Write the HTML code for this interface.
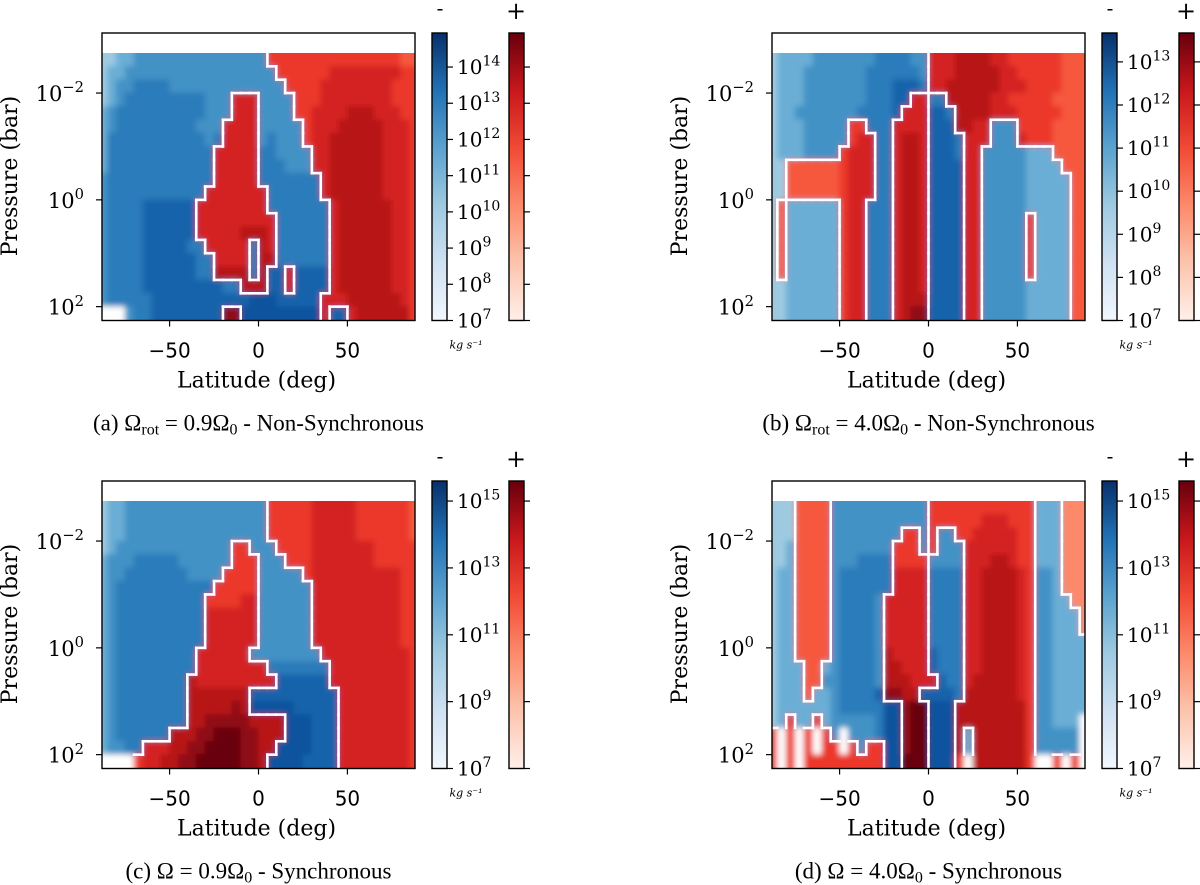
<!DOCTYPE html>
<html><head><meta charset="utf-8">
<style>
html,body{margin:0;padding:0;background:#fff;}
svg{display:block;}
text{font-family:"DejaVu Serif","Liberation Serif",serif;fill:#000;}
.cap{font-family:"Liberation Serif",serif;font-size:23px;}
.xt{font-family:"DejaVu Sans","Liberation Sans",sans-serif;font-size:20px;}
</style></head>
<body>
<svg id="fig" width="1200" height="885" viewBox="0 0 1200 885" xmlns="http://www.w3.org/2000/svg">
<defs>
<filter id="soft" x="-5%" y="-5%" width="110%" height="110%"><feGaussianBlur stdDeviation="3"/></filter>
<linearGradient id="gBlue" x1="0" y1="1" x2="0" y2="0">
<stop offset="0" stop-color="#f2f7fd"/><stop offset="0.2" stop-color="#cfe1f2"/><stop offset="0.4" stop-color="#9ecae1"/><stop offset="0.6" stop-color="#5aa2cf"/><stop offset="0.8" stop-color="#2171b5"/><stop offset="1" stop-color="#08306b"/></linearGradient>
<linearGradient id="gRed" x1="0" y1="1" x2="0" y2="0">
<stop offset="0" stop-color="#fff0ea"/><stop offset="0.2" stop-color="#fcc4ad"/><stop offset="0.4" stop-color="#fc8a6a"/><stop offset="0.6" stop-color="#f14a35"/><stop offset="0.8" stop-color="#c8171c"/><stop offset="1" stop-color="#67000d"/></linearGradient>
</defs>
</svg>
<script>
// ---- data (lat from -90 in 5 deg columns; log10 p rows from -2.75 in 0.25 steps) ----
const latStart = -90;
const latStep = 5;
const logpStart = -2.75;
const logpStep = 0.25;
const xTicks = [-50, 0, 50];
const yTicks = [-2, 0, 2];
const cbTicksA = [7, 8, 9, 10, 11, 12, 13, 14];
const cbTicksB = [7, 8, 9, 10, 11, 12, 13];
const cbTicksC = [7, 9, 11, 13, 15];
const cbTicksD = [7, 9, 11, 13, 15];
const cbMaxA = 14.94, cbMaxB = 13.67, cbMaxC = 15.6, cbMaxD = 15.6;
// lowercase = negative (blue) magnitude level, uppercase = positive (red), '.' = none
const gridA = [
"ccdd"+"eeeeeeeeeeeeeee"+"EEEEEEEEEEEEEEE"+"DD",
"cdde"+"eeeeeeeeeeeeeeee"+"EEEEEEFFFFFFFFEE",
"cdee"+"ffffeeeeeeeeeeeee"+"EEEEFFFFFFFFEEE",
"cdef"+"ffffffffeee"+"FFF"+"eeee"+"EEEFFFFFFFFEEE",
"deff"+"ffffffffeee"+"FFF"+"eeee"+"EEFFFFGGGFFFEE",
"deff"+"fffffffeee"+"FFFF"+"eeeee"+"EFFFGGGGGFFFE",
"dfff"+"ffffffffef"+"FFFF"+"efeee"+"EFFGGGGGGFFFE",
"dfff"+"fffffffff"+"FFFFF"+"ffeeee"+"FFGGGGGGFFFE",
"dfff"+"fffffffff"+"FFFFF"+"fffeee"+"FFGGGGGGFFFE",
"efff"+"fffffffff"+"FFFFF"+"fffffff"+"FGGGGGGFFFE",
"efff"+"ffffffff"+"FFFFFFF"+"ffffff"+"FGGGGGGFFFE",
"efff"+"fgggggg"+"FFFFFFFF"+"fffffff"+"FGGGGGGFFE",
"efff"+"fgggggg"+"FFFFFFFFF"+"ffffff"+"FGGGGGGFFE",
"efff"+"fgggggg"+"FFFFFGGGF"+"ffffff"+"FGGGGGGFFE",
"efff"+"fgggggff"+"FFFFFfGF"+"ffffff"+"FGGGGGGFFE",
"efff"+"fggggggff"+"FFFFfGG"+"ffffff"+"FGGGGGGFFE",
"efff"+"fggggggff"+"GGGGfG"+"gg"+"F"+"gggg"+"FGGGGGGFFE",
"efff"+"fgggggggggff"+"GGG"+"gg"+"F"+"gggg"+"FGGGGGGFFE",
"efff"+"ffggggggggggghhhgggg"+"g"+"FF"+"FGGGGGGFE",
"..."+"effggggggg"+"g"+"HH"+"hhhhhhhhh"+"F"+"gg"+"FGGGGGGE"
];
const gridB = [
"cddddeeeeeeeffffee"+"FFFGGGGFFEEEEEEDDD",
"cdddeeeeeeeffffffe"+"FFFGGGGGFFEEEEEDDD",
"cdddeeeeeeefffgggf"+"FFGGGGGGFFFEEEEDDD",
"cdddeeeeeeefffgg"+"FF"+"ff"+"GGGGGFFEEEEEDDDD",
"cddeeeeeeeffffg"+"FFF"+"ggf"+"GGGGFFFEEEEEDDD",
"cdddeeeee"+"EE"+"fff"+"FFFF"+"ggg"+"GGFF"+"eee"+"EEEEDDDD",
"cdddeeeee"+"EFF"+"ff"+"FGGF"+"gggf"+"FFF"+"eee"+"FEEEDDDD",
"cdddeeee"+"EFFF"+"ff"+"FGGF"+"gggf"+"FF"+"eeeee"+"ddd"+"DDDD",
"cc"+"DDDDDD"+"EFFF"+"ff"+"FGGF"+"gggg"+"FF"+"eeeee"+"dddd"+"DDD",
"cc"+"DDDDDD"+"EFFF"+"ff"+"FGGF"+"gggg"+"FF"+"eeeee"+"ddddd"+"DD",
"cc"+"DDDDDD"+"EFFF"+"ff"+"FGGF"+"gggg"+"FF"+"eeeee"+"ddddd"+"DD",
"cD"+"dddddd"+"EFF"+"fff"+"FGGF"+"gggg"+"FF"+"eeeee"+"ddddd"+"DD",
"cD"+"dddddd"+"EFF"+"fff"+"FGGF"+"gggg"+"FF"+"eeeee"+"E"+"dddd"+"DD",
"cD"+"dddddd"+"EFF"+"fff"+"FGGF"+"gggg"+"FF"+"eeeee"+"E"+"dddd"+"DD",
"cD"+"dddddd"+"EFF"+"fff"+"FGGF"+"gggg"+"FF"+"eeeee"+"E"+"dddd"+"DD",
"cD"+"dddddd"+"EFF"+"fff"+"FGGF"+"gggg"+"FF"+"eeeee"+"E"+"dddd"+"DD",
"cD"+"dddddd"+"EFF"+"fff"+"FGGF"+"gggg"+"FF"+"eeeee"+"E"+"dddd"+"DD",
"cc"+"dddddd"+"EFF"+"fff"+"FGGF"+"gggg"+"FF"+"eeeee"+"ddddd"+"DD",
"cc"+"dddddd"+"EFF"+"fff"+"FGGG"+"gggg"+"FF"+"eeeee"+"ddddd"+"DD",
"cc"+"dddddd"+"EFF"+"fff"+"FGHH"+"gggg"+"FF"+"eeeee"+"ddddd"+"DD"
];
const gridC = [
"cdde"+"eeeeeeeeeeeeeee"+"EEEEEFFFFFEEEEEED",
"cdde"+"eeeeeeeeeeeeeee"+"EEEEEFFFFFEEEEEED",
"cdde"+"eeeeeeeeeeeeeee"+"EEEEEFFFFFEEEEEED",
"cdee"+"eeeeeeeeeee"+"EE"+"eee"+"EEEEFFFFFFFEEEEE",
"deee"+"fffffeeeeee"+"EEE"+"eee"+"EEEFFFFFFFEEEEE",
"deef"+"ffffffeeee"+"EEEE"+"eeeee"+"EFFFFFFFFFFEE",
"deff"+"fffffffff"+"EEEEE"+"eeeeee"+"FFFFFFFFFFEE",
"deff"+"ffffffff"+"EEEEFF"+"eeeeee"+"FFFFFFFFFFEE",
"deff"+"ffffffff"+"FFFFFF"+"eeeeee"+"FFFFFFFFFFEE",
"deff"+"ffffffff"+"FFFFFF"+"eeeeee"+"FFFFFFFFFFEE",
"deff"+"ffffffff"+"FFFFFF"+"eeeeee"+"FFFFFFFFFFEE",
"deff"+"fffffff"+"FFFFFF"+"eeeeeeee"+"FFFFFFFFFFE",
"deff"+"fffffff"+"FFFFFFFF"+"fffffff"+"FFFFFFFFFE",
"deff"+"ffffff"+"GFFFFFFFFF"+"gggggg"+"FFFFFFFFFE",
"deff"+"ffffff"+"GGGGGGG"+"gggggggggg"+"FFFFFFFFE",
"deff"+"ffffff"+"GGGGGHG"+"hhhhhggggg"+"FFFFFFFFE",
"deff"+"ffffff"+"GGHHHHHGGGG"+"hhhggg"+"FFFFFFFFE",
"deff"+"ffff"+"GGGHHIIIHHGGG"+"hhhggg"+"FFFFFFFFE",
"deef"+"f"+"FFFGGHHIIIIHHGG"+"hhhhggg"+"FFFFFFFFE",
"...."+"EFFGGHHIIIIIHHG"+"hhhhgggg"+"FFFFFFFFE"
];
const gridD = [
"ccc"+"DDDD"+"eeeeeeeeeee"+"EEEEEEEEEEEE"+"ddd"+"CCC",
"ccc"+"DDDD"+"eeeeeeeeeee"+"EEEEEEFFFEEE"+"ddd"+"CCC",
"ccc"+"DDDD"+"eeeeeeee"+"EE"+"e"+"E"+"ee"+"EEFFFFFEE"+"ddd"+"CCC",
"ccd"+"DDDD"+"eeeeeee"+"EEE"+"e"+"E"+"eee"+"FFFFFFEE"+"ddd"+"CCC",
"ccd"+"DDDD"+"eeeffff"+"EEEE"+"eeee"+"FFFGGFEE"+"ddd"+"CCC",
"cdd"+"DDDD"+"effffff"+"FFFF"+"ffff"+"FFGGGGFE"+"eed"+"CCC",
"cdd"+"DDDD"+"effffff"+"FFFF"+"ffff"+"FFGGGGFE"+"eed"+"CCC",
"cdd"+"DDDD"+"effffe"+"FFFFF"+"ffff"+"FFGGGGFE"+"eeddCC",
"cdd"+"DDDD"+"effffe"+"FFFFF"+"ffff"+"FFGGGGFE"+"eedddC",
"cdd"+"DDDD"+"effffe"+"FFFFF"+"ffff"+"FFGGGGFE"+"eedddC",
"cdd"+"DDDD"+"effffe"+"FFFFF"+"ffff"+"FFGGGGFE"+"eedddd",
"cdd"+"DDDD"+"effffe"+"GFFFF"+"gfff"+"FFGGGGFE"+"eedddd",
"cddd"+"DD"+"d"+"effffe"+"GGFFF"+"gfff"+"FFGGGGFE"+"eedddd",
"cddd"+"DD"+"e"+"effffe"+"GGGFF"+"Fgff"+"FGGGGGFE"+"eedddd",
"cddd"+"D"+"dd"+"effffg"+"HHGG"+"g"+"gggf"+"GGGGGGFE"+"eedddd",
"cddd"+"dd"+"d"+"efffff"+"hh"+"HII"+"hhh"+"GGGGGGGGE"+"eedddd",
"cdEd"+"dEd"+"eeeeef"+"hh"+"HII"+"hhh"+"GGGGGGGGE"+"eeddd.",
"E.E.E.E"+"e.eee"+"f"+"hh"+"HII"+"hhh"+"GdGGGGGGE"+"eeeee.",
"E.E.E.EE.EeE"+"E"+"hh"+"HII"+"hhh"+"GdGGGGGGE"+"eeeee.",
"E.E.EEEEEEEE"+"E"+"hh"+"III"+"hhh"+"E.GGGGGGE"+"..E.E."
];

// ---- rendering ----
const NS = "http://www.w3.org/2000/svg";
const svg = document.getElementById("fig");
const BLUES = {a:"#dbe9f6",b:"#bdd7ec",c:"#9ecae1",d:"#6baed6",e:"#4292c6",f:"#2c7bba",g:"#1764ab",h:"#0a539e",i:"#08306b"};
const REDS = {A:"#fdd4c2",B:"#fcaa8e",C:"#fc8a6a",D:"#f6583e",E:"#eb372a",F:"#d42121",G:"#b81419",H:"#8f0912",I:"#67000d"};
function colorOf(ch){ if(BLUES[ch]) return BLUES[ch]; if(REDS[ch]) return REDS[ch]; return "#ffffff"; }
function signOf(ch){ if(BLUES[ch]) return -1; if(REDS[ch]) return 1; return 0; }
function mk(tag, attrs, parent){ const e=document.createElementNS(NS,tag); for(const k in attrs) e.setAttribute(k,attrs[k]); (parent||svg).appendChild(e); return e; }

function supText(parent, x, y, base, sup, size, anchor){
  const t = mk("text",{x:x,y:y,"font-size":size,"text-anchor":anchor},parent);
  t.appendChild(document.createTextNode(base));
  const s = document.createElementNS(NS,"tspan");
  s.setAttribute("dy", -size*0.42);
  s.setAttribute("font-size", size*0.7);
  s.textContent = sup;
  t.appendChild(s);
  return t;
}

function drawPanel(id, L, T, grid, cbMax, cbTicks, caption){
  const W = 313, H = 287.5, dataTop = T + 20;
  const xs = lat => L + (lat + 88) * (W / 176);
  const ys = lp => dataTop + (lp - logpStart) * 53.4;
  const g = mk("g",{});
  
  
  const clipId = "clip" + id;
  const cp = mk("clipPath",{id:clipId},g);
  mk("rect",{x:L,y:dataTop,width:W,height:T+H-dataTop},cp);
  const plot = mk("g",{"clip-path":"url(#"+clipId+")"},g);
  
  
  const cells = mk("g",{filter:"url(#soft)"},plot);
  const rows = grid.length;
  for(let r=-1;r<=rows;r++){
    const row = grid[Math.max(0,Math.min(r,rows-1))];
    for(let c=0;c<row.length;c++){
      const lat0 = latStart + c*latStep;
      const lp0 = logpStart + r*logpStep;
      const rc = mk("rect",{x:xs(lat0)-0.3,y:ys(lp0)-0.3,width:xs(lat0+latStep)-xs(lat0)+0.6,height:ys(lp0+logpStep)-ys(lp0)+0.6,fill:colorOf(row[c])},cells);
      
      
    }
  }
  const lines = mk("g",{stroke:"#fff","stroke-width":2.6,"stroke-linecap":"square"},plot);
  
  
  for(let r=0;r<rows;r++){
    const row = grid[r];
    for(let c=0;c<row.length;c++){
      const s = signOf(row[c]);
      const lat0 = latStart + c*latStep, lp0 = logpStart + r*logpStep;
      if(c+1<row.length){ const s2=signOf(row[c+1]); if(s!==0 && s2!==0 && s!==s2){
        mk("line",{x1:xs(lat0+latStep),x2:xs(lat0+latStep),y1:ys(lp0),y2:ys(lp0+logpStep)},lines);}}
      if(r+1<rows){ const s2=signOf(grid[r+1][c]); if(s!==0 && s2!==0 && s!==s2){
        mk("line",{x1:xs(lat0),x2:xs(lat0+latStep),y1:ys(lp0+logpStep),y2:ys(lp0+logpStep)},lines);}}
    }
  }
  // white strip above data
  mk("rect",{x:L,y:T,width:W,height:dataTop-T,fill:"#fff"},g);
  const frame = mk("rect",{x:L,y:T,width:W,height:H,fill:"none",stroke:"#000","stroke-width":1.4},g);
  
  
  xTicks.forEach(v=>{
    mk("line",{x1:xs(v),x2:xs(v),y1:T+H,y2:T+H+6,stroke:"#000","stroke-width":1.2},g);
    const t = mk("text",{x:xs(v),y:T+H+37,"text-anchor":"middle",class:"xt"},g);
    t.textContent = v<0 ? "\u2212"+Math.abs(v) : String(v);
    
    
  });
  yTicks.forEach(v=>{
    mk("line",{x1:L-6,x2:L,y1:ys(v),y2:ys(v),stroke:"#000","stroke-width":1.2},g);
    const t = supText(g, L-18, ys(v)+8, "10", v<0?"\u2212"+Math.abs(v):String(v), 21, "end");
    
    
  });
  const xl = mk("text",{x:L+W/2-2,y:T+H+67,"text-anchor":"middle","font-size":22},g);
  xl.textContent = "Latitude (deg)";
  
  
  const ylx = L - 85, yly = T + 143;
  const yl = mk("text",{x:ylx,y:yly,"text-anchor":"middle","font-size":22,transform:"rotate(-90 "+ylx+" "+yly+")"},g);
  yl.textContent = "Pressure (bar)";
  
  
  const cys = e => T + H - (e - 7) / (cbMax - 7) * H;
  const bx = L + W + 17, rx = L + W + 94;
  const cbB = mk("rect",{x:bx,y:T,width:15,height:H,fill:"url(#gBlue)",stroke:"#000","stroke-width":1.4},g);
  
  
  const cbR = mk("rect",{x:rx,y:T,width:15,height:H,fill:"url(#gRed)",stroke:"#000","stroke-width":1.4},g);
  
  
  cbTicks.forEach(e=>{
    mk("line",{x1:bx+15,x2:bx+21,y1:cys(e),y2:cys(e),stroke:"#000","stroke-width":1.2},g);
    mk("line",{x1:rx+15,x2:rx+21,y1:cys(e),y2:cys(e),stroke:"#000","stroke-width":1.2},g);
    const t = supText(g, bx+25, cys(e)+7, "10", String(e), 20, "start");
    
    
  });
  const mn = mk("text",{x:bx+8,y:T-18,"text-anchor":"middle","font-size":20},g);
  mn.textContent = "-";
  
  
  const pl = mk("text",{x:rx+7,y:T-14,"text-anchor":"middle","font-size":24},g);
  pl.textContent = "+";
  
  
  const un = mk("text",{x:bx+34,y:T+H+28,"text-anchor":"middle","font-size":11,"font-style":"italic"},g);
  un.textContent = "kg s\u207B\u00B9";
  
  
  const cap = mk("text",{x:L+W/2,y:T+H+110,"text-anchor":"middle",class:"cap"},g);
  
  
  caption.forEach(part=>{
    const s = document.createElementNS(NS,"tspan");
    if(part.sub){ s.setAttribute("font-size","16"); s.setAttribute("dy","4"); }
    else if(part.back){ s.setAttribute("dy","-4"); }
    s.textContent = part.t;
    cap.appendChild(s);
  });
}

drawPanel("a", 102, 33, gridA, cbMaxA, cbTicksA, [{t:"(a) \u03A9"},{t:"rot",sub:1},{t:" = 0.9\u03A9",back:1},{t:"0",sub:1},{t:" - Non-Synchronous",back:1}]);
drawPanel("b", 772, 33, gridB, cbMaxB, cbTicksB, [{t:"(b) \u03A9"},{t:"rot",sub:1},{t:" = 4.0\u03A9",back:1},{t:"0",sub:1},{t:" - Non-Synchronous",back:1}]);
drawPanel("c", 102, 481, gridC, cbMaxC, cbTicksC, [{t:"(c) \u03A9 = 0.9\u03A9"},{t:"0",sub:1},{t:" - Synchronous",back:1}]);
drawPanel("d", 772, 481, gridD, cbMaxD, cbTicksD, [{t:"(d) \u03A9 = 4.0\u03A9"},{t:"0",sub:1},{t:" - Synchronous",back:1}]);
</script>
</body></html>
